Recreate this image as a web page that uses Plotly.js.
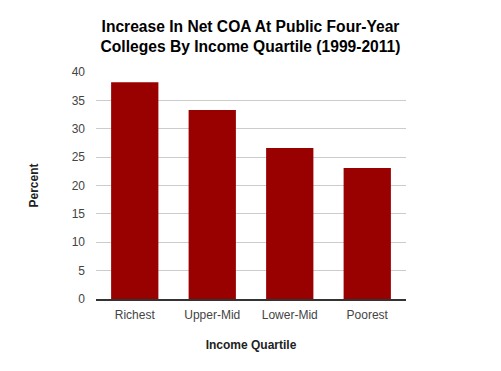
<!DOCTYPE html>
<html>
<head>
<meta charset="utf-8">
<script src="https://cdn.plot.ly/plotly-3.0.1.min.js"></script>
<style>html,body{margin:0;padding:0;background:#fff;}#chart{width:501px;height:371px;}</style>
</head>
<body>
<div id="chart"></div>
<script>
const categories = ["Richest", "Upper-Mid", "Lower-Mid", "Poorest"];
const percentIncrease = [38.2, 33.3, 26.6, 23.1];
const yTicks = [0, 5, 10, 15, 20, 25, 30, 35, 40];

const trace = {
  type: "bar",
  x: categories,
  y: percentIncrease,
  marker: {color: "#990000"},
  hoverinfo: "x+y"
};

const layout = {
  width: 501,
  height: 371,
  margin: {l: 96, r: 95, t: 72, b: 72},
  paper_bgcolor: "#ffffff",
  plot_bgcolor: "#ffffff",
  bargap: 0.39,
  showlegend: false,
  font: {family: "Liberation Sans, Arial, sans-serif", color: "#444444", size: 12},
  title: {
    text: "<b>Increase In Net COA At Public Four-Year<br>Colleges By Income Quartile (1999-2011)</b>",
    font: {family: "Liberation Sans, Arial, sans-serif", size: 15.6, color: "#000000"},
    x: 0.5, xanchor: "center",
    y: 0.914, yanchor: "middle"
  },
  xaxis: {
    title: {text: "<b>Income Quartile</b>", font: {size: 12, color: "#222222"}, standoff: 19},
    showline: true, linecolor: "#333333", linewidth: 1.5,
    showgrid: false, ticks: "", ticklabelstandoff: 4,
    tickfont: {size: 12, color: "#444444"}
  },
  yaxis: {
    title: {text: "<b>Percent</b>", font: {size: 12, color: "#222222"}, standoff: 30},
    range: [0, 40],
    tickvals: yTicks,
    showgrid: true, gridcolor: "#cccccc", gridwidth: 1,
    zeroline: false, showline: false, ticks: "", ticklabelstandoff: 10,
    tickfont: {size: 12, color: "#444444"}
  }
};

Plotly.newPlot("chart", [trace], layout, {displayModeBar: false, staticPlot: true});
</script>
</body>
</html>
